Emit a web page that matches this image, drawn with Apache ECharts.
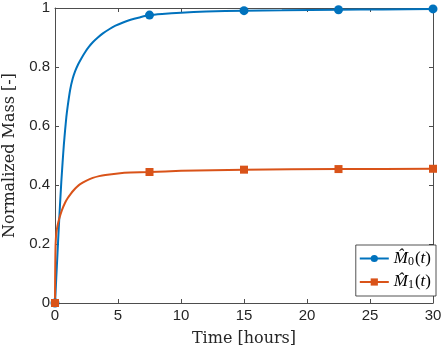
<!DOCTYPE html>
<html>
<head>
  <meta charset="utf-8">
  <title>Normalized Mass</title>
  <style type="text/css">
    html, body { margin: 0; padding: 0; background: #fff; }
    #main { width: 447px; height: 348px; }
  </style>
</head>
<body>
<div id="main"></div>
<script type="text/javascript" src="https://cdn.jsdelivr.net/npm/echarts@6/dist/echarts.min.js"></script>
<script type="text/javascript">
  // values
  var markerTimes = [0, 7.5, 15, 22.5, 30];

  var m0Time = [0, 0.05, 0.1, 0.2, 0.3, 0.4, 0.5, 0.6, 0.7, 0.8, 0.9, 1.0, 1.2, 1.4, 1.6, 1.85, 2.1, 2.4, 2.7, 3.0, 3.4, 3.8, 4.3, 4.8, 5.4, 6.0, 6.7, 7.5, 8.5, 10, 12, 15, 18, 22.5, 26, 30];
  var m0Val  = [0, 0.04, 0.085, 0.17, 0.255, 0.335, 0.41, 0.475, 0.535, 0.585, 0.63, 0.665, 0.722, 0.76, 0.786, 0.81, 0.83, 0.851, 0.869, 0.884, 0.9, 0.914, 0.928, 0.94, 0.951, 0.96, 0.968, 0.976, 0.98, 0.984, 0.988, 0.991, 0.992, 0.994, 0.995, 0.997];

  var m1Time = [0, 0.01, 0.03, 0.05, 0.1, 0.2, 0.35, 0.55, 0.8, 1.0, 1.25, 1.5, 1.75, 2.0, 2.5, 3.0, 3.5, 4.0, 5.0, 6.0, 7.5, 10, 15, 22.5, 30];
  var m1Val  = [0, 0.08, 0.16, 0.2, 0.235, 0.262, 0.288, 0.315, 0.34, 0.355, 0.37, 0.383, 0.394, 0.403, 0.415, 0.424, 0.43, 0.434, 0.439, 0.442, 0.444, 0.448, 0.452, 0.454, 0.455];

  var xTicks = [0, 30, 5];
  var yTicks = [0, 1, 0.2];

  function pairs(t, v) {
    var out = [];
    for (var i = 0; i < t.length; i++) out.push([t[i], v[i]]);
    return out;
  }

  function markerSize(size) {
    return function (val) {
      return markerTimes.indexOf(val[0]) >= 0 ? size : 0;
    };
  }

  var axisCol = '#4d4d4d';
  var labelCol = '#262626';

  var myChart = echarts.init(document.getElementById('main'));

  var baseX = {
    type: 'value', min: xTicks[0], max: xTicks[1], interval: xTicks[2],
    axisLine: {onZero: false, lineStyle: {color: axisCol, width: 1}},
    axisTick: {inside: true, length: 4, lineStyle: {color: axisCol}},
    splitLine: {show: false}
  };
  var baseY = {
    type: 'value', min: yTicks[0], max: yTicks[1], interval: yTicks[2],
    axisLine: {show: true, onZero: false, lineStyle: {color: axisCol, width: 1}},
    axisTick: {show: true, inside: true, length: 4, lineStyle: {color: axisCol}},
    splitLine: {show: false}
  };

  var option = {
    backgroundColor: '#fff',
    animation: false,
    grid: {left: 55, right: 14, top: 8, bottom: 45, containLabel: false, outerBoundsMode: 'none'},
    xAxis: [
      echarts.util.merge({
        position: 'bottom',
        name: 'Time [hours]',
        nameLocation: 'middle',
        nameGap: 28,
        nameTextStyle: {fontFamily: 'DejaVu Serif', fontSize: 16, color: labelCol},
        axisLabel: {fontFamily: 'Liberation Sans', fontSize: 15, color: labelCol, margin: 5}
      }, baseX, true),
      echarts.util.merge({position: 'top', axisLabel: {show: false}}, baseX, true)
    ],
    yAxis: [
      echarts.util.merge({
        position: 'left',
        name: 'Normalized Mass [-]',
        nameLocation: 'middle',
        nameGap: 37,
        nameTextStyle: {fontFamily: 'DejaVu Serif', fontSize: 16, color: labelCol},
        axisLabel: {fontFamily: 'Liberation Sans', fontSize: 15, color: labelCol, margin: 5}
      }, baseY, true),
      echarts.util.merge({position: 'right', axisLabel: {show: false}}, baseY, true)
    ],
    legend: {
      right: 11,
      bottom: 52,
      orient: 'vertical',
      backgroundColor: '#fff',
      borderColor: '#262626',
      borderWidth: 0.8,
      borderRadius: 0,
      padding: [5, 5, 5, 3],
      itemGap: 6,
      itemWidth: 29,
      itemHeight: 9,
      textStyle: {
        color: '#000',
        rich: {
          m: {fontFamily: 'Liberation Serif', fontStyle: 'italic', fontSize: 17},
          s: {fontFamily: 'Liberation Serif', fontSize: 12, padding: [6, 1, 0, 0]},
          r: {fontFamily: 'Liberation Serif', fontSize: 17}
        }
      },
      formatter: function (name) {
        var sub = name === 'M0' ? '0' : '1';
        return '{m|M\u0302}{s|' + sub + '}{r|(}{m|t}{r|)}';
      },
      data: ['M0', 'M1']
    },
    series: [
      {
        name: 'M0',
        type: 'line',
        data: pairs(m0Time, m0Val),
        smooth: 0.2,
        symbol: 'circle',
        symbolSize: markerSize(9),
        showAllSymbol: true,
        color: '#0072BD',
        lineStyle: {width: 2}
      },
      {
        name: 'M1',
        type: 'line',
        data: pairs(m1Time, m1Val),
        smooth: 0.2,
        symbol: 'rect',
        symbolSize: markerSize(8),
        showAllSymbol: true,
        color: '#D95319',
        lineStyle: {width: 2}
      }
    ]
  };

  myChart.setOption(option);
</script>
</body>
</html>
